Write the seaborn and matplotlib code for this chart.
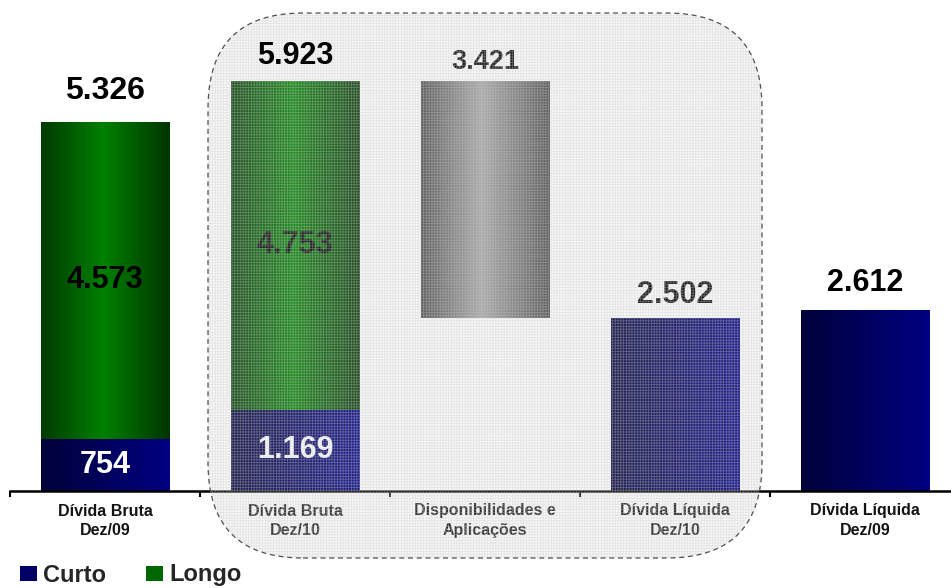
import numpy as np
import matplotlib
matplotlib.use("Agg")
import matplotlib.pyplot as plt
import seaborn as sns
from matplotlib.patches import FancyBboxPatch, Patch
from matplotlib.colors import LinearSegmentedColormap
from matplotlib.transforms import IdentityTransform

# --- dados (R$ milhões) ---
categorias = [
    "Dívida Bruta\nDez/09",
    "Dívida Bruta\nDez/10",
    "Disponibilidades e\nAplicações",
    "Dívida Líquida\nDez/10",
    "Dívida Líquida\nDez/09",
]
curto = [754, 1169, 0, 0, 0]
longo = [4573, 4753, 0, 0, 0]
divida_bruta = [5326, 5923, 0, 0, 0]
disponibilidades = [0, 0, 3421, 0, 0]
divida_liquida = [0, 0, 0, 2502, 2612]
rotulos_legenda = ["Curto", "Longo"]

def fmt(v):
    return f"{v:,}".replace(",", ".")

# base da barra flutuante: dívida bruta Dez/10 menos disponibilidades
base_disp = [divida_bruta[1] - d if d else 0 for d in disponibilidades]

sns.set_theme(style="white")
plt.rcParams["font.family"] = ["Liberation Sans", "DejaVu Sans"]
plt.rcParams["font.weight"] = "bold"
plt.rcParams["hatch.linewidth"] = 0.6

W, H = 951, 588
fig = plt.figure(figsize=(W / 100, H / 100), dpi=100)
ax = fig.add_axes([10 / W, 97 / H, 950 / W, 491 / H])

cmap_navy = LinearSegmentedColormap.from_list("navy", ["#00003a", "#000082"])
cmap_verde = LinearSegmentedColormap.from_list(
    "verde", [(0, "#003a00"), (0.48, "#008000"), (1, "#003400")])
cmap_cinza = LinearSegmentedColormap.from_list(
    "cinza", [(0, "#4c4c4c"), (0.47, "#a6a6a6"), (1, "#4a4a4a")])

largura = 0.674

def barras(valores, cor, cmap, bottom=None):
    antes = len(ax.patches)
    kw = {} if bottom is None else {"bottom": bottom}
    sns.barplot(x=categorias, y=valores, color=cor, saturation=1, width=largura,
                errorbar=None, linewidth=0, ax=ax, zorder=2, **kw)
    grad = np.linspace(0, 1, 256).reshape(1, -1)
    for p in ax.patches[antes:]:
        if p.get_height() <= 0:
            continue
        x0, y0 = p.get_x(), p.get_y()
        im = ax.imshow(grad, cmap=cmap, aspect="auto", origin="lower",
                       extent=(x0, x0 + p.get_width(), y0, y0 + p.get_height()),
                       interpolation="bilinear", zorder=2.1)
        im.set_clip_path(p)

barras(divida_bruta, "#006000", cmap_verde)
barras(curto, "#000060", cmap_navy)
barras(disponibilidades, "#808080", cmap_cinza, bottom=base_disp)
barras(divida_liquida, "#000060", cmap_navy)

ax.set_xlim(-0.5, 4.5)
ax.set_ylim(0, 7085)

# rótulos de valor
def rotulo(i, y, txt, cor="black", dy=0.0, size=22, z=3):
    ax.annotate(txt, (i, y), xytext=(0, dy), textcoords="offset points",
                ha="center", va="center", fontsize=size, fontweight="bold",
                color=cor, zorder=z)

px = 0.72  # pontos por pixel
rotulo(0, divida_bruta[0], fmt(divida_bruta[0]), dy=31 * px, size=23)
rotulo(1, divida_bruta[1], fmt(divida_bruta[1]), dy=25 * px, z=6)
rotulo(2, divida_bruta[1], fmt(disponibilidades[2]), dy=19 * px, size=19.5)
rotulo(3, divida_liquida[3], fmt(divida_liquida[3]), dy=23 * px)
rotulo(4, divida_liquida[4], fmt(divida_liquida[4]), dy=27 * px)
for i in (0, 1):
    rotulo(i, (curto[i] + divida_bruta[i]) / 2, fmt(longo[i]))
    rotulo(i, curto[i] / 2, fmt(curto[i]), cor="white")

# eixo x
for s in ("left", "top", "right"):
    ax.spines[s].set_visible(False)
ax.spines["bottom"].set_color("black")
ax.spines["bottom"].set_linewidth(1.8)
ax.set_yticks([])
ax.set_xticks(range(len(categorias)))
ax.set_xticklabels(categorias, fontsize=11.5, fontweight="bold",
                   color="#141414", linespacing=1.35)
ax.set_xticks(np.arange(-0.5, len(categorias)), minor=True)
ax.tick_params(axis="x", which="major", length=0, pad=9)
ax.tick_params(axis="x", which="minor", length=4.5, width=1.5,
               color="black", direction="out", bottom=True)

# destaque tracejado sobre as três categorias centrais (coordenadas em pixels)
caixa = dict(xy=(208, 30), width=554, height=545,
             boxstyle="round,pad=0,rounding_size=95")
textura = FancyBboxPatch(caixa["xy"], caixa["width"], caixa["height"],
                         boxstyle=caixa["boxstyle"], transform=IdentityTransform(),
                         facecolor=(0.82, 0.82, 0.82, 0.15),
                         edgecolor=(0.78, 0.78, 0.78, 0.40), linewidth=0,
                         hatch="++++++", clip_on=False, zorder=5)
contorno = FancyBboxPatch(caixa["xy"], caixa["width"], caixa["height"],
                          boxstyle=caixa["boxstyle"], transform=IdentityTransform(),
                          facecolor="none", edgecolor="#505050", linewidth=0.9,
                          linestyle=(0, (4, 3)), clip_on=False, zorder=5.1)
ax.add_patch(textura)
ax.add_patch(contorno)

# legenda
handles = [Patch(facecolor="#000066", edgecolor="none"),
           Patch(facecolor="#006600", edgecolor="none")]
fig.legend(handles, rotulos_legenda, loc="center left",
           bbox_to_anchor=(20 / W, 13 / H), ncol=2, frameon=False,
           prop={"family": ["Liberation Sans"], "size": 17, "weight": "bold"},
           handlelength=0.72, handleheight=0.62, handletextpad=0.25,
           columnspacing=1.7, borderpad=0, borderaxespad=0)

fig.savefig("out.png", dpi=100)
